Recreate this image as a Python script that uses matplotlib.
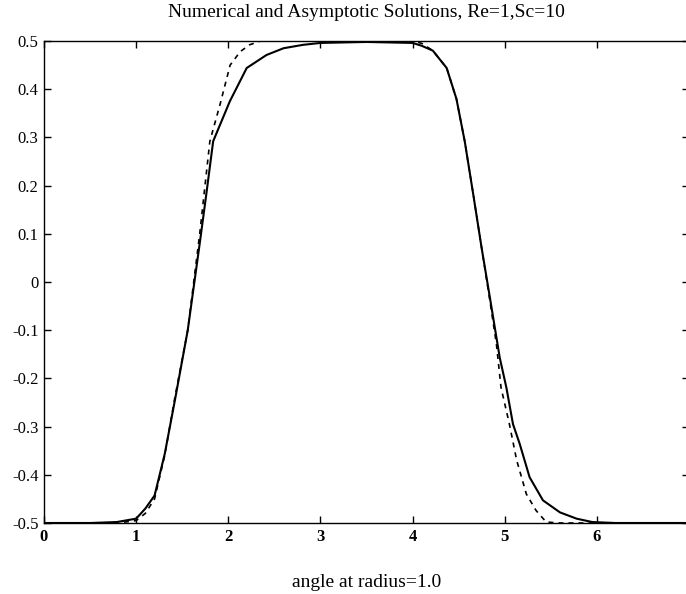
import matplotlib
matplotlib.use("Agg")
import matplotlib.pyplot as plt

# Numerical solution (solid)
num_x = [0.0, 0.5, 0.79, 1.0, 1.1, 1.2, 1.31, 1.42, 1.56, 1.69, 1.76, 1.836, 2.017, 2.2,
         2.415, 2.6, 2.81, 3.0, 3.5, 4.0, 4.1, 4.22, 4.37, 4.476, 4.566, 4.66, 4.75,
         4.845, 4.946, 5.018, 5.09, 5.163, 5.27, 5.415, 5.6, 5.78, 5.95, 6.2, 7.0]
num_y = [-0.5, -0.5, -0.498, -0.491, -0.47, -0.443, -0.357, -0.246, -0.1, 0.08, 0.18, 0.292,
         0.375, 0.444, 0.471, 0.485, 0.492, 0.496, 0.498, 0.496, 0.49, 0.48, 0.444, 0.38,
         0.292, 0.18, 0.07, -0.039, -0.157, -0.219, -0.295, -0.336, -0.405, -0.453,
         -0.478, -0.491, -0.498, -0.5, -0.5]

# Asymptotic solution (dashed)
asy_x = [0.0, 0.8, 1.0, 1.1, 1.2, 1.31, 1.42, 1.56, 1.69, 1.8, 1.91, 2.02, 2.13, 2.23,
         2.35, 3.0, 4.0, 4.1, 4.22, 4.37, 4.476, 4.566, 4.66, 4.75, 4.84, 4.91, 4.96,
         5.05, 5.13, 5.235, 5.34, 5.45, 5.6, 7.0]
asy_y = [-0.5, -0.5, -0.495, -0.48, -0.45, -0.36, -0.24, -0.1, 0.1, 0.292, 0.368, 0.45,
         0.478, 0.492, 0.5, 0.5, 0.5, 0.495, 0.48, 0.444, 0.38, 0.292, 0.18, 0.07,
         -0.04, -0.129, -0.219, -0.294, -0.37, -0.44, -0.474, -0.498, -0.5, -0.5]

xticks = [0, 1, 2, 3, 4, 5, 6, 7]
yticks = [0.5, 0.4, 0.3, 0.2, 0.1, 0.0, -0.1, -0.2, -0.3, -0.4, -0.5]
ytick_labels = ["0.5", "0.4", "0.3", "0.2", "0.1", "0", "-0.1", "-0.2", "-0.3", "-0.4", "-0.5"]

plt.rcParams['font.family'] = ['Liberation Serif', 'DejaVu Serif']

fig = plt.figure(figsize=(6.86, 5.94), dpi=100)
ax = fig.add_axes([44/686, 71/594, (689-44)/686, (553-71)/594])

ax.plot(num_x, num_y, color='black', linewidth=1.5, linestyle='-')
ax.plot(asy_x, asy_y, color='black', linewidth=1.2, linestyle=(0, (3, 3)))

ax.set_xlim(0, 7)
ax.set_ylim(-0.5, 0.5)
ax.set_xticks(xticks)
ax.set_yticks(yticks)
ax.set_yticklabels(ytick_labels)
ax.tick_params(direction='in', length=5, width=1, top=True, right=True,
               labelsize=12, colors='black')
for lab in ax.get_xticklabels():
    lab.set_fontweight('bold')
ax.tick_params(axis='x', pad=4)
ax.tick_params(axis='y', pad=4)
for s in ax.spines.values():
    s.set_linewidth(1.0)
    s.set_color('black')

ax.set_title("Numerical and Asymptotic Solutions, Re=1,Sc=10", fontsize=14, pad=17)
ax.set_xlabel("angle at radius=1.0", fontsize=14, labelpad=21)

fig.savefig("out.png", dpi=100)
